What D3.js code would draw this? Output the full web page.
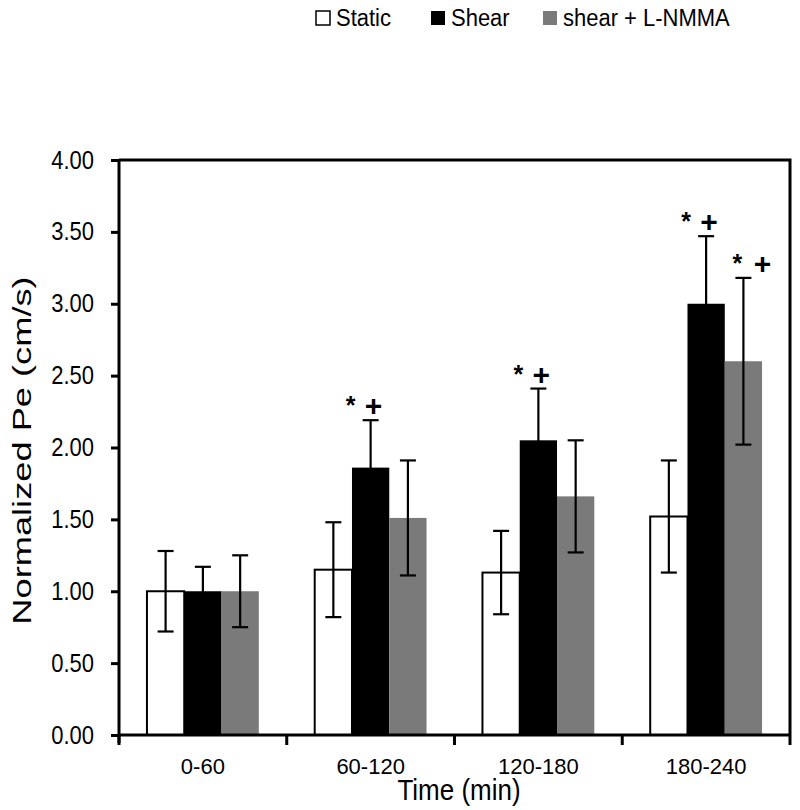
<!DOCTYPE html>
<html>
<head>
<meta charset="utf-8">
<script src="https://cdn.jsdelivr.net/npm/d3@7"></script>
<style>
  html, body { margin: 0; padding: 0; background: #fff; }
  svg { display: block; font-family: "Liberation Sans", Arial, sans-serif; }
</style>
</head>
<body>
<svg id="chart" width="800" height="810"></svg>
<script>
// ---- data ----
const categories = ["0-60", "60-120", "120-180", "180-240"];
const seriesNames = ["Static", "Shear", "shear + L-NMMA"];
const staticMean = [1.00, 1.15, 1.13, 1.52];
const staticErr  = [0.28, 0.33, 0.29, 0.39];
const shearMean  = [1.00, 1.86, 2.05, 3.00];
const shearErr   = [0.17, 0.33, 0.36, 0.47];
const lnmmaMean  = [1.00, 1.51, 1.66, 2.60];
const lnmmaErr   = [0.25, 0.40, 0.39, 0.58];
const yTicks = [0, 0.5, 1, 1.5, 2, 2.5, 3, 3.5, 4];
// significance marks: [category index, series index]
const sigMarks = [[1, 1], [2, 1], [3, 1], [3, 2]];

(function () {
const seriesMeans = [staticMean, shearMean, lnmmaMean];
const seriesErrs = [staticErr, shearErr, lnmmaErr];
const fills = ["#ffffff", "#000000", "#7a7a7a"];

const svg = d3.select("#chart");
const pL = 119, pR = 790, pT = 160, pB = 735;

const x = d3.scaleBand().domain(categories).range([pL, pR]).paddingInner(0).paddingOuter(0);
const bw = x.bandwidth();
const xs = d3.scaleBand().domain(seriesNames).range([bw / 6, bw * 5 / 6]).padding(0);
const y = d3.scaleLinear().domain([0, 4]).range([pB, pT]);

const font = '"Liberation Sans", Arial, sans-serif';

// bars
const data = [];
categories.forEach((c, i) => {
  seriesNames.forEach((s, j) => {
    data.push({ c, s, i, j, v: seriesMeans[j][i], e: seriesErrs[j][i] });
  });
});

svg.append("g").selectAll("rect").data(data).join("rect")
  .attr("x", d => x(d.c) + xs(d.s))
  .attr("y", d => y(d.v))
  .attr("width", xs.bandwidth())
  .attr("height", d => y(0) - y(d.v))
  .attr("fill", d => fills[d.j])
  .attr("stroke", d => d.j === 0 ? "#000" : "none")
  .attr("stroke-width", 2);

// error bars
const eg = svg.append("g").attr("stroke", "#000").attr("stroke-width", 2.2);
data.forEach(d => {
  const cx = x(d.c) + xs(d.s) + xs.bandwidth() / 2;
  const y1 = y(d.v + d.e), y0 = y(d.v - d.e);
  eg.append("line").attr("x1", cx).attr("x2", cx).attr("y1", y1).attr("y2", y0);
  eg.append("line").attr("x1", cx - 8).attr("x2", cx + 8).attr("y1", y1).attr("y2", y1);
  eg.append("line").attr("x1", cx - 8).attr("x2", cx + 8).attr("y1", y0).attr("y2", y0);
});

// significance marks
const markOffsets = { 1: [-20, 3], 2: [-6, 19] };
sigMarks.forEach(([i, j]) => {
  const c = categories[i], s = seriesNames[j];
  const cx = x(c) + xs(s) + xs.bandwidth() / 2;
  const ytop = y(seriesMeans[j][i] + seriesErrs[j][i]);
  const off = markOffsets[j];
  svg.append("text").attr("x", cx + off[0]).attr("y", ytop - 21 + 15)
    .attr("text-anchor", "middle").attr("font-family", font)
    .attr("font-weight", "bold").attr("font-size", 25).text("*");
  svg.append("text").attr("x", cx + off[1]).attr("y", ytop - 15 + 11)
    .attr("text-anchor", "middle").attr("font-family", font)
    .attr("font-weight", "bold").attr("font-size", 30).text("+");
});

// frame (top and right)
svg.append("path")
  .attr("d", `M${pL},${pT}H${pR}V${pB}`)
  .attr("fill", "none").attr("stroke", "#000").attr("stroke-width", 3);

// y axis
const yAxis = d3.axisLeft(y).tickValues(yTicks).tickFormat(d3.format(".2f")).tickSize(8).tickPadding(17);
const gy = svg.append("g").attr("transform", `translate(${pL},0)`).call(yAxis);
gy.select(".domain").attr("stroke-width", 3).attr("d", `M0,${pT}V${pB + 8}`);
gy.selectAll(".tick line").attr("stroke-width", 3);
gy.selectAll(".tick text").attr("font-family", font).attr("font-size", 22).attr("fill", "#000")
  .attr("transform", "scale(1,1.15)");

// x axis
const xAxis = d3.axisBottom(x).tickSize(0).tickPadding(23);
const gx = svg.append("g").attr("transform", `translate(0,${pB})`).call(xAxis);
gx.select(".domain").attr("stroke-width", 3).attr("d", `M${pL},0H${pR}`);
gx.selectAll(".tick text").attr("font-family", font).attr("font-size", 22).attr("fill", "#000");
// boundary tick marks between categories
const bounds = categories.map(c => x(c)).concat([pR]);
gx.selectAll("line.bound").data(bounds).join("line").attr("class", "bound")
  .attr("x1", d => d).attr("x2", d => d).attr("y1", 0).attr("y2", 10)
  .attr("stroke", "#000").attr("stroke-width", 3);

// axis titles
svg.append("text").attr("transform", "translate(459,800) scale(1,1.15)").attr("text-anchor", "middle")
  .attr("font-family", font).attr("font-size", 26).text("Time (min)");
svg.append("text").attr("transform", `translate(31,${(pT + pB) / 2 + 3}) rotate(-90) scale(1.45,1)`)
  .attr("text-anchor", "middle").attr("font-family", font).attr("font-size", 25)
  .text("Normalized Pe (cm/s)");

// legend
const legX = [316, 431, 543];
const lg = svg.append("g");
seriesNames.forEach((s, j) => {
  lg.append("rect").attr("x", legX[j]).attr("y", 11).attr("width", 14).attr("height", 14)
    .attr("fill", fills[j]).attr("stroke", j === 0 ? "#000" : "none").attr("stroke-width", 1.5);
  lg.append("text").attr("transform", `translate(${legX[j] + 20},26) scale(1,1.1)`)
    .attr("font-family", font).attr("font-size", 22).text(s);
});
})();
</script>
</body>
</html>
